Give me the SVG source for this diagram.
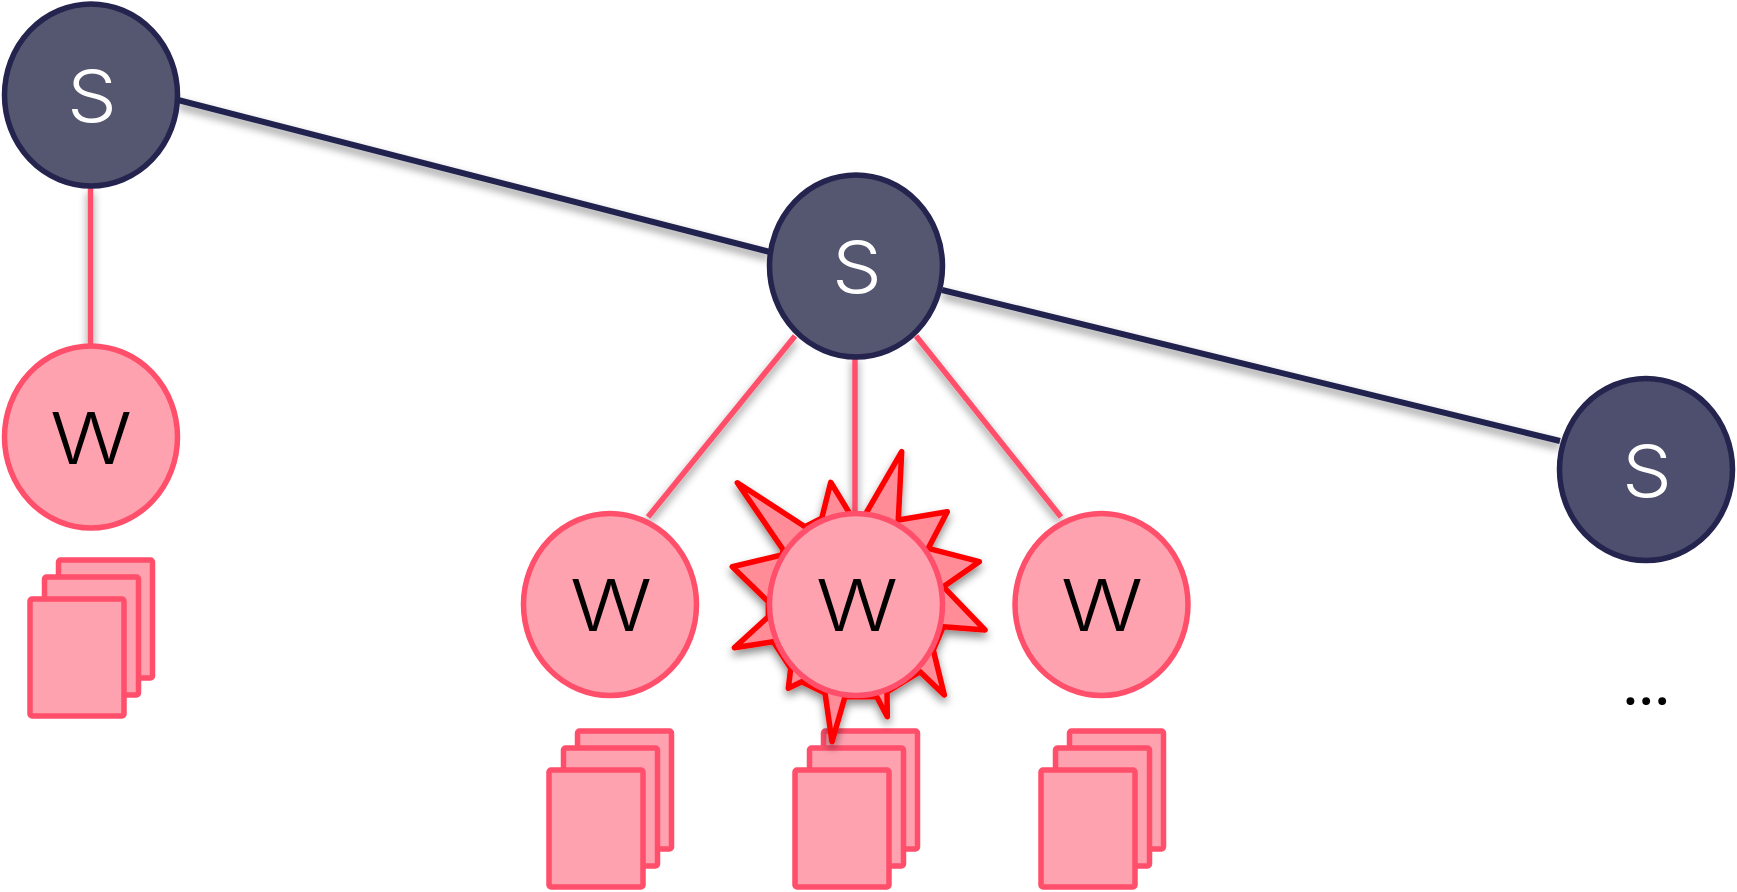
<svg xmlns="http://www.w3.org/2000/svg" width="1737" height="892" viewBox="0 0 1737 892">
<style>
.s{fill:#55566f;stroke:#24244f;stroke-width:5.5}
.w{fill:#ffa2b0;stroke:#ff4f6b;stroke-width:5.5}
.d{fill:#ffa2b0;stroke:#ff4f6b;stroke-width:5.5;stroke-linejoin:round}
.ld{stroke:#24244f;stroke-width:6;fill:none}
.lp{stroke:#ff4f6b;stroke-width:5.5;fill:none}
text{font-family:"Inter","Noto Sans","Liberation Sans",sans-serif;text-anchor:middle;font-weight:300}
.ts{fill:#fff;font-size:72px}
.tw{fill:#000;font-size:72px}
</style>
<defs>
<filter id="sh" x="-20%" y="-20%" width="140%" height="140%"><feDropShadow dx="0" dy="5" stdDeviation="4.5" flood-color="#000" flood-opacity="0.45"/></filter>
<g id="docs">
<rect class="d" x="58.5" y="560" width="94" height="118" rx="2"/>
<rect class="d" x="44.5" y="577" width="94" height="118" rx="2"/>
<rect class="d" x="30" y="599" width="94" height="117" rx="2"/>
</g>
</defs>
<g id="stack-1"><use href="#docs"/></g>
<g id="stack-2"><use href="#docs" x="519" y="171"/></g>
<g id="stack-3"><use href="#docs" x="765" y="171"/></g>
<g id="stack-4"><use href="#docs" x="1011" y="171"/></g>
<g id="connectors" filter="url(#sh)">
<line class="ld" x1="178" y1="100" x2="770" y2="252"/>
<line class="ld" x1="942" y1="290" x2="1560" y2="441"/>
<line class="lp" x1="90.5" y1="188" x2="90.5" y2="345"/>
<line class="lp" x1="795" y1="336" x2="648" y2="517"/>
<line class="lp" x1="855" y1="355" x2="855" y2="512"/>
<line class="lp" x1="916" y1="336" x2="1061" y2="517"/>
</g>
<g id="burst"><polygon filter="url(#sh)" points="830.7,482.3 858,527 901.7,451.7 898.3,520 947.3,511.7 928.3,548.3 979.3,561.7 943.3,586.7 985,630 943.3,626.7 933.3,650 944.3,695 920,671.7 887,692 887.3,716.7 876.7,696.7 845,696.7 832,741.7 825,693 801.7,681.7 788.3,688.3 790.7,668.3 773.3,641.7 734.3,647.7 768.3,616.7 768.3,601.7 732.3,566.7 781.7,555 783.3,550 737.3,482.7 805,526.7 821.7,518.3" fill="#ff8c96" stroke="#ff0000" stroke-width="5.5" stroke-linejoin="round"/></g>
<g id="node-s1"><ellipse class="s" cx="91" cy="95" rx="86.5" ry="91"/><text class="ts" x="92" y="122" textLength="50" lengthAdjust="spacingAndGlyphs">S</text></g>
<g id="node-s2"><ellipse class="s" cx="856" cy="266" rx="86.5" ry="91"/><text class="ts" x="857" y="293" textLength="50" lengthAdjust="spacingAndGlyphs">S</text></g>
<g id="node-s3"><ellipse class="s" style="fill:#4e4e6e" cx="1646" cy="469.5" rx="86.5" ry="91"/><text class="ts" x="1647" y="497" textLength="50" lengthAdjust="spacingAndGlyphs">S</text></g>
<g id="node-w1"><ellipse class="w" cx="91" cy="437" rx="86.5" ry="91"/><text class="tw" x="91" y="464" textLength="82" lengthAdjust="spacingAndGlyphs">W</text></g>
<g id="node-w2"><ellipse class="w" cx="610" cy="604.5" rx="86.5" ry="91"/><text class="tw" x="611" y="631" textLength="82" lengthAdjust="spacingAndGlyphs">W</text></g>
<g id="node-w3"><ellipse class="w" cx="856" cy="604.5" rx="86.5" ry="91"/><text class="tw" x="857" y="631" textLength="82" lengthAdjust="spacingAndGlyphs">W</text></g>
<g id="node-w4"><ellipse class="w" cx="1101.5" cy="604.5" rx="86.5" ry="91"/><text class="tw" x="1102" y="631" textLength="82" lengthAdjust="spacingAndGlyphs">W</text></g>
<text x="1648" y="705" style="font-family:'Lato',sans-serif;font-size:52px;font-weight:700;letter-spacing:3.5px">...</text>
</svg>
